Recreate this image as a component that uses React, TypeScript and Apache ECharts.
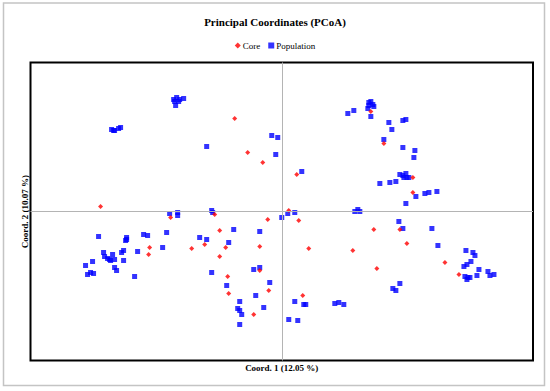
import React, { useEffect, useRef } from "react";
import * as echarts from "echarts";

const titleText = "Principal Coordinates (PCoA)";
const xAxisName = "Coord. 1 (12.05 %)";
const yAxisName = "Coord. 2 (10.07 %)";
const seriesNames = ["Core", "Population"];

const corePoints: number[][] = [
  [-1.81, 0.05], [-0.47, 0.93], [-0.34, 0.59], [-0.19, 0.49], [0.15, 0.37],
  [-0.67, -0.03], [0.07, 0.01], [0.89, 1.0], [1.02, 0.68], [1.31, 0.34],
  [1.31, 0.19], [-1.11, -0.06], [-0.77, -0.33], [-1.32, -0.36], [-1.33, -0.43],
  [-0.9, -0.37], [-0.14, -0.08], [0.17, -0.09], [-0.62, -0.19], [-0.56, -0.36],
  [-0.22, -0.35], [0.27, -0.37], [-0.62, -0.45], [-0.22, -0.59], [-0.54, -0.65],
  [-0.53, -0.82], [-0.13, -0.79], [0.21, -0.84], [-0.28, -1.03], [0.92, -0.18],
  [1.18, -0.18], [1.25, -0.32], [0.71, -0.39], [0.95, -0.57], [1.63, -0.51],
  [1.77, -0.63],
];

const populationPoints: number[][] = [
  [-1.08, 1.12], [-1.05, 1.14], [-1.02, 1.12], [-0.98, 1.13], [-1.07, 1.1], [-1.03, 1.1], [-1.06, 1.06],
  [-1.7, 0.82], [-1.67, 0.81], [-1.63, 0.83], [-1.61, 0.84], [-1.68, 0.81],
  [-0.75, 0.65], [-0.1, 0.76], [-0.04, 0.74], [-0.06, 0.57], [0.2, 0.4],
  [0.66, 0.98], [0.72, 1.01],
  [0.87, 1.09], [0.89, 1.1], [0.87, 1.06], [0.91, 1.07], [0.92, 1.05], [0.86, 1.03],
  [0.89, 0.95], [1.07, 0.89], [1.1, 0.82], [1.21, 0.91], [1.24, 0.92],
  [1.02, 0.72], [1.21, 0.64], [1.33, 0.61], [1.32, 0.54],
  [1.18, 0.37], [1.21, 0.36], [1.24, 0.38], [1.25, 0.34], [1.22, 0.34], [1.27, 0.34],
  [0.98, 0.28], [1.08, 0.29], [1.14, 0.3], [1.34, 0.15], [1.43, 0.18], [1.47, 0.19], [1.55, 0.2],
  [1.24, 0.08], [0.73, 0.0], [0.76, 0.02], [0.78, 0.0],
  [-1.12, -0.02], [-1.04, -0.01], [-1.04, -0.04], [-0.7, 0.01], [-0.69, -0.01],
  [0.06, -0.02], [0.13, -0.01], [0.0, -0.06],
  [-1.83, -0.25], [-1.38, -0.23], [-1.34, -0.24], [-1.55, -0.26], [-1.56, -0.29], [-1.55, -0.28],
  [-1.15, -0.21], [-0.82, -0.26], [-0.75, -0.28], [-1.19, -0.36], [-1.44, -0.4],
  [-1.58, -0.39], [-1.6, -0.41], [-1.78, -0.41], [-1.69, -0.43],
  [-1.77, -0.45], [-1.74, -0.47], [-1.72, -0.48], [-1.71, -0.49], [-1.67, -0.48],
  [-1.58, -0.49], [-1.89, -0.5], [-1.96, -0.54], [-1.67, -0.56], [-1.65, -0.59],
  [-1.94, -0.63], [-1.91, -0.61], [-1.88, -0.62], [-1.47, -0.65],
  [-0.48, -0.18], [-0.22, -0.2], [-0.53, -0.31], [-0.7, -0.61], [-0.28, -0.58], [-0.22, -0.56],
  [-0.12, -0.71], [-0.55, -0.74], [-0.26, -0.84], [-0.42, -0.9], [0.13, -0.9],
  [0.22, -0.93], [0.24, -0.93], [-0.44, -0.97], [-0.42, -0.99], [-0.18, -0.96],
  [-0.4, -1.03], [-0.42, -1.13], [0.07, -1.08], [0.16, -1.09],
  [0.53, -0.92], [0.57, -0.91], [0.62, -0.93],
  [1.17, -0.1], [1.21, -0.17], [1.5, -0.17], [1.56, -0.34],
  [1.18, -0.72], [1.11, -0.77], [1.14, -0.79],
  [1.84, -0.39], [1.91, -0.41], [1.93, -0.44], [1.89, -0.5], [1.85, -0.53], [1.82, -0.55],
  [1.97, -0.58], [2.06, -0.6], [2.12, -0.63], [2.08, -0.64], [1.95, -0.64],
  [1.83, -0.65], [1.86, -0.66], [1.85, -0.68], [1.88, -0.66],
];

const FONT = "'Liberation Serif', 'Times New Roman', serif";

export default function App() {
  const ref = useRef<HTMLDivElement>(null);
  useEffect(() => {
    if (!ref.current) return;
    const chart = echarts.init(ref.current, undefined, { renderer: "svg" });
    chart.setOption({
      animation: false,
      backgroundColor: "#ffffff",
      textStyle: { fontFamily: FONT },
      title: {
        text: titleText,
        left: "center",
        top: 11,
        textStyle: { fontFamily: FONT, fontSize: 11, fontWeight: "bold", color: "#000" },
      },
      legend: {
        data: seriesNames,
        top: 36,
        left: "center",
        itemGap: 8,
        itemWidth: 6,
        itemHeight: 6,
        textStyle: { fontFamily: FONT, fontSize: 9, color: "#000", padding: [0, 0, 0, -3] },
      },
      graphic: [
        {
          type: "rect",
          shape: { x: 3.5, y: 3, width: 541, height: 382.5 },
          style: { fill: "none", stroke: "#c4c4c4", lineWidth: 1.5 },
          silent: true,
        },
      ],
      grid: {
        left: 30.5,
        top: 62.5,
        width: 502.5,
        height: 298,
        show: true,
        borderColor: "#000",
        borderWidth: 2,
        backgroundColor: "transparent",
      },
      xAxis: {
        type: "value",
        min: -2.51,
        max: 2.51,
        name: xAxisName,
        nameLocation: "middle",
        nameGap: 3,
        nameTextStyle: { fontFamily: FONT, fontSize: 9, fontWeight: "bold", color: "#000", verticalAlign: "top" },
        axisLine: { show: false, onZero: false },
        axisTick: { show: false },
        axisLabel: { show: false },
        splitLine: { show: false },
      },
      yAxis: {
        type: "value",
        min: -1.49,
        max: 1.49,
        name: yAxisName,
        nameLocation: "middle",
        nameGap: 1,
        nameRotate: 90,
        nameTextStyle: { fontFamily: FONT, fontSize: 9, fontWeight: "bold", color: "#000" },
        axisLine: { show: false, onZero: false },
        axisTick: { show: false },
        axisLabel: { show: false },
        splitLine: { show: false },
      },
      series: [
        {
          name: "crosshair",
          type: "scatter",
          data: [],
          z: 1,
          markLine: {
            silent: true,
            symbol: "none",
            label: { show: false },
            lineStyle: { color: "#b4b4b4", width: 1, type: "solid" },
            data: [{ xAxis: 0 }, { yAxis: 0 }],
          },
        },
        {
          name: "Population",
          type: "scatter",
          symbol: "rect",
          symbolSize: 5,
          itemStyle: { color: "#0000ff" },
          data: populationPoints,
          z: 2,
        },
        {
          name: "Core",
          type: "scatter",
          symbol: "diamond",
          symbolSize: 5,
          itemStyle: { color: "#ff0000" },
          data: corePoints,
          z: 3,
        },
      ],
    });
    return () => chart.dispose();
  }, []);
  return (
    <div
      ref={ref}
      style={{ position: "absolute", left: 0, top: 0, width: 550, height: 391 }}
    />
  );
}
